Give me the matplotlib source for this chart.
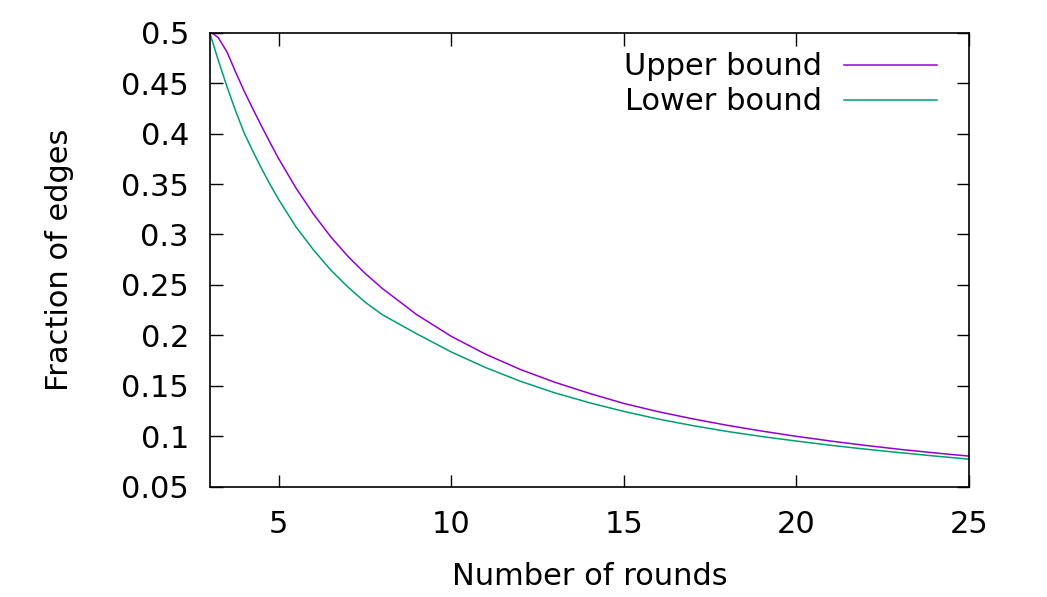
import matplotlib
matplotlib.use('Agg')
import matplotlib.pyplot as plt

# Values
rounds = [3, 3.1, 3.25, 3.5, 3.75, 4, 4.25, 4.5, 4.75, 5, 5.5, 6, 6.5, 7, 7.5,
          8, 9, 10, 11, 12, 13, 14, 15, 16, 17, 18, 19, 20, 21, 22, 23, 24, 25]
upper = [0.500, 0.499, 0.495, 0.481, 0.461, 0.442, 0.4245, 0.4075, 0.391, 0.375,
         0.346, 0.3205, 0.298, 0.2785, 0.2615, 0.2465, 0.2205, 0.199, 0.1812,
         0.1662, 0.1535, 0.1425, 0.1325, 0.1243, 0.1172, 0.1108, 0.1051, 0.0999,
         0.0952, 0.0909, 0.087, 0.0835, 0.0803]
lower = [0.500, 0.489, 0.4725, 0.4465, 0.4225, 0.4005, 0.3825, 0.3655, 0.3495,
         0.3345, 0.3075, 0.285, 0.265, 0.248, 0.233, 0.2205, 0.2015, 0.1835,
         0.168, 0.1545, 0.143, 0.1332, 0.1246, 0.117, 0.1105, 0.1047, 0.0997,
         0.0952, 0.091, 0.0872, 0.0837, 0.0804, 0.0773]
x_ticks = [5, 10, 15, 20, 25]
y_ticks = [0.05, 0.1, 0.15, 0.2, 0.25, 0.3, 0.35, 0.4, 0.45, 0.5]

plt.rcParams['font.family'] = 'DejaVu Sans'
plt.rcParams['font.size'] = 22

fig = plt.figure(figsize=(10.47, 5.97), dpi=100)
ax = fig.add_axes([0.2003, 0.1848, 0.7252, 0.7604])

ax.plot(rounds, upper, color='#9400D3', lw=1.1, label='Upper bound')
ax.plot(rounds, lower, color='#009E73', lw=1.1, label='Lower bound')

ax.set_xlim(3, 25)
ax.set_ylim(0.05, 0.5)
ax.set_xticks(x_ticks)
ax.set_yticks(y_ticks)
ax.set_yticklabels([f'{v:g}' for v in y_ticks])

ax.tick_params(direction='in', length=9, width=1, top=True, right=True)
ax.tick_params(axis='x', pad=17)
ax.tick_params(axis='y', pad=15)
for s in ax.spines.values():
    s.set_linewidth(1.2)

ax.set_xlabel('Number of rounds', labelpad=16)
ax.set_ylabel('Fraction of edges', labelpad=34)

ax.legend(loc='upper right', bbox_to_anchor=(0.958, 0.957), frameon=False,
          markerfirst=False, handlelength=3.04, handletextpad=0.72,
          labelspacing=0.2, borderaxespad=0.0, borderpad=0.0)

fig.savefig('out.png', dpi=100)
